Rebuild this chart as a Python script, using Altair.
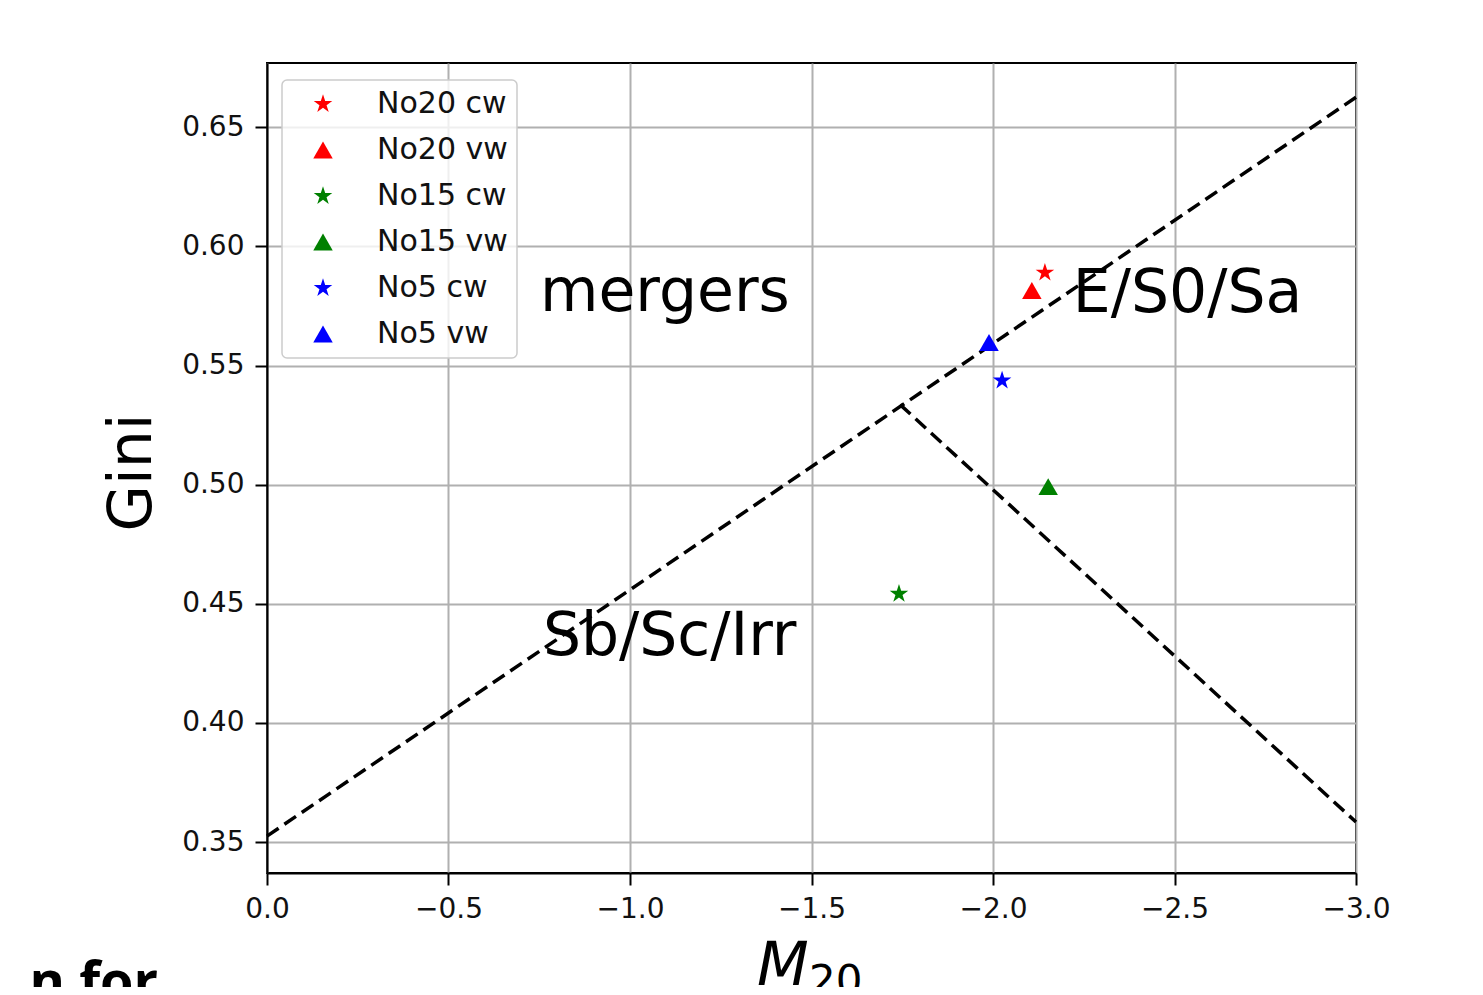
import altair as alt
import pandas as pd

# ---- data ----
series = ["No20 cw", "No20 vw", "No15 cw", "No15 vw", "No5 cw", "No5 vw"]
m20 = [-2.143, -2.107, -1.741, -2.152, -2.025, -1.989]
gini = [0.589, 0.5815, 0.4542, 0.4992, 0.5437, 0.5597]
colors = ["#ff0000", "#ff0000", "#008000", "#008000", "#0000ff", "#0000ff"]

STAR = ("M0,-1L0.2245,-0.309L0.9511,-0.309L0.3633,0.118L0.5878,0.809L0,0.382"
        "L-0.5878,0.809L-0.3633,0.118L-0.9511,-0.309L-0.2245,-0.309Z")
shapes = [STAR, "triangle-up", STAR, "triangle-up", STAR, "triangle-up"]

# dividing lines (endpoints)
line_id = ["merger", "merger", "class", "class"]
line_x = [0.0, -3.0, -1.744, -3.0]
line_y = [0.3525, 0.6626, 0.5336, 0.3584]

ann_text = ["mergers", "E/S0/Sa", "Sb/Sc/Irr"]
ann_x = [-0.752, -2.220, -0.760]
ann_y = [0.5727, 0.5723, 0.4286]

x_ticks = [0.0, -0.5, -1.0, -1.5, -2.0, -2.5, -3.0]
y_ticks = [0.35, 0.40, 0.45, 0.50, 0.55, 0.60, 0.65]

FONT = "DejaVu Sans"
W, H = 1089, 810

pts = pd.DataFrame({"series": series, "m20": m20, "gini": gini})
lines = pd.DataFrame({"id": line_id, "m20": line_x, "gini": line_y})
ann = pd.DataFrame({"label": ann_text, "m20": ann_x, "gini": ann_y})

xscale = alt.Scale(domain=[-3, 0], reverse=True, nice=False, zero=False)
yscale = alt.Scale(domain=[0.337, 0.677], nice=False, zero=False)

xaxis = alt.Axis(values=x_ticks, format=".1f", title=None, labelFlush=False,
                 labelPadding=10)
yaxis = alt.Axis(values=y_ticks, format=".2f", title="Gini", labelFlush=False,
                 labelPadding=11,
                 titleFontSize=60, titleFont=FONT, titleFontWeight="normal",
                 titleAngle=270, titleBaseline="middle", titleAlign="center",
                 titleX=-135, titleY=H / 2 + 4, titleColor="black")

line_layer = alt.Chart(lines).mark_line(
    color="black", strokeWidth=3.5, strokeDash=[14, 7]
).encode(
    x=alt.X("m20:Q", scale=xscale, axis=xaxis),
    y=alt.Y("gini:Q", scale=yscale, axis=yaxis),
    detail="id:N",
)

point_layer = alt.Chart(pts).mark_point(filled=True, opacity=1, size=380).encode(
    x=alt.X("m20:Q", scale=xscale),
    y=alt.Y("gini:Q", scale=yscale),
    color=alt.Color("series:N", scale=alt.Scale(domain=series, range=colors),
                    legend=alt.Legend(title=None)),
    shape=alt.Shape("series:N", scale=alt.Scale(domain=series, range=shapes),
                    legend=alt.Legend(title=None)),
)

ann_layer = alt.Chart(ann).mark_text(
    align="left", baseline="alphabetic", fontSize=60, font=FONT, color="black"
).encode(
    x=alt.X("m20:Q", scale=xscale),
    y=alt.Y("gini:Q", scale=yscale),
    text="label:N",
)

# x-axis title M_20 drawn as two text pieces (italic M + subscript 20)
m_title = alt.Chart(pd.DataFrame({"t": ["M"]})).mark_text(
    align="left", baseline="alphabetic", fontSize=60, font=FONT,
    fontStyle="italic", color="black"
).encode(x=alt.value(490), y=alt.value(922), text="t:N")

sub_title = alt.Chart(pd.DataFrame({"t": ["20"]})).mark_text(
    align="left", baseline="alphabetic", fontSize=42, font=FONT, color="black"
).encode(x=alt.value(542), y=alt.value(932), text="t:N")

# cropped slide text at bottom-left
slide_txt = alt.Chart(pd.DataFrame({"t": ["n for"]})).mark_text(
    align="right", baseline="alphabetic", fontSize=54, font="Open Sans",
    fontWeight="bold", color="black"
).encode(x=alt.value(150 - 259), y=alt.value(1000 - 63), text="t:N")

chart = alt.layer(line_layer, point_layer, ann_layer, m_title, sub_title, slide_txt).properties(
    width=W, height=H,
    autosize=alt.AutoSizeParams(type="none"),
    padding={"left": 259, "top": 55, "right": 119, "bottom": 114},
    background="white",
).configure_view(
    stroke="black", strokeWidth=2
).configure_axis(
    labelFont=FONT, labelFontSize=28, labelColor="#111111",
    domainColor="black", domainWidth=2,
    tickColor="black", tickWidth=2, tickSize=12,
    grid=True, gridColor="#b0b0b0", gridWidth=2,
).configure_legend(
    orient="none", legendX=15, legendY=17,
    fillColor="rgba(255,255,255,0.8)", strokeColor="#cccccc", strokeWidth=1.5,
    cornerRadius=5, padding=9,
    labelFont=FONT, labelFontSize=30, labelColor="#111111",
    symbolSize=380, symbolOpacity=1, symbolStrokeWidth=0,
    rowPadding=16, symbolOffset=17, labelOffset=39,
)

chart.save("out.html", embed_options={"renderer": "svg", "actions": False})
